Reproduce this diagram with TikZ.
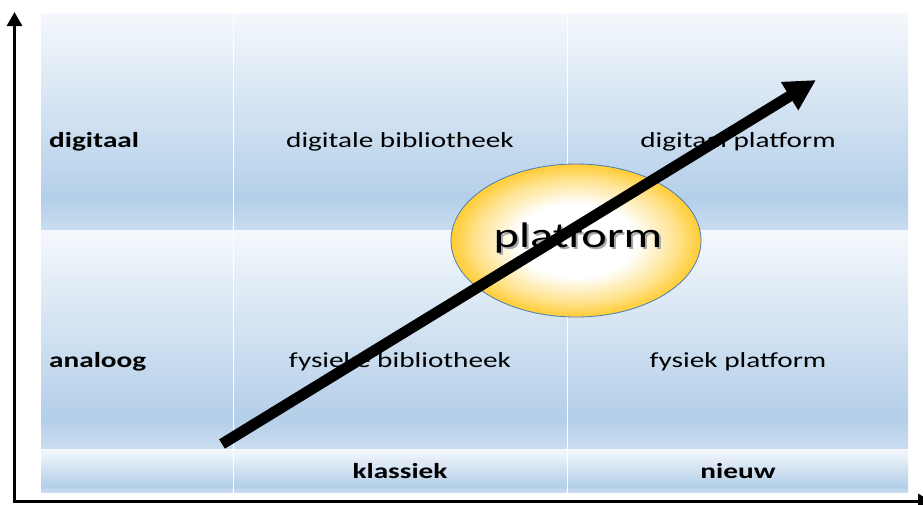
\documentclass[tikz,border=0pt]{standalone}
\usepackage{fontspec}
\setmainfont[FakeStretch=1.36]{Carlito}
\usetikzlibrary{arrows.meta,shapes.geometric}

\definecolor{celltop}{HTML}{F5F8FC}
\definecolor{celldeep}{HTML}{B4CFE9}
\definecolor{cellbot}{HTML}{C9DCEF}
\definecolor{goldedge}{HTML}{FFCC33}
\definecolor{goldsoft}{HTML}{FFE390}
\definecolor{ringblue}{HTML}{4A7EBB}
\definecolor{shadowgrey}{HTML}{A8A8A8}

% pale at the top, deepest blue just above the lower edge
\pgfdeclareverticalshading{cellfade}{100bp}{%
  color(0bp)=(cellbot); color(25bp)=(cellbot); color(32bp)=(celldeep);
  color(75bp)=(celltop); color(100bp)=(celltop)}
% white core fading out to gold at the rim
\pgfdeclareradialshading{goldglow}{\pgfpoint{0bp}{0bp}}{%
  color(0bp)=(white); color(12bp)=(white); color(20bp)=(goldsoft);
  color(25bp)=(goldedge); color(50bp)=(goldedge)}

% word with a soft drop shadow behind it
\newcommand{\shadowedword}[1]{%
  \makebox[0pt][l]{\hspace{2pt}\raisebox{-2pt}{\textcolor{shadowgrey}{#1}}}#1}

\begin{document}
\begin{tikzpicture}[x=1pt,y=-1pt,
  cellfill/.style={shading=cellfade},
  label/.style={font=\fontsize{21.5}{25}\selectfont, anchor=base, inner sep=0pt},
  rowhead/.style={label, font=\fontsize{21.5}{25}\selectfont\bfseries, anchor=base west},
  colhead/.style={label, font=\fontsize{21.5}{25}\selectfont\bfseries},
  axisline/.style={line width=3pt, line join=miter,
    {Triangle[length=14pt,width=15pt]}-{Triangle[length=14pt,width=15pt]}},
  trend/.style={line width=11pt, -{Triangle[length=31pt,width=31pt]}},
  hub/.style={ellipse, draw=ringblue, line width=0.8pt, shading=goldglow,
    minimum width=250pt, minimum height=153pt, inner sep=0pt}
]
\useasboundingbox (0,0) rectangle (923,504);
\fill[white] (0,0) rectangle (923,504);

% table cells
\shade[cellfill] (41,13)    rectangle (232.5,229);
\shade[cellfill] (234,13)   rectangle (566.5,229);
\shade[cellfill] (568,13)   rectangle (908,229);
\shade[cellfill] (41,230.5) rectangle (232.5,448);
\shade[cellfill] (234,230.5) rectangle (566.5,448);
\shade[cellfill] (568,230.5) rectangle (908,448);
\shade[cellfill] (41,449.5) rectangle (232.5,492);
\shade[cellfill] (234,449.5) rectangle (566.5,492);
\shade[cellfill] (568,449.5) rectangle (908,492);

% row and column headings
\node[rowhead] (digi) at (49,147) {digitaal};
\node[rowhead] (anal) at (49,367) {analoog};
\node[colhead] (klas) at (400,478) {klassiek};
\node[colhead] (nieu) at (738,478) {nieuw};

% cell contents
\node[label] (digbib) at (400,147) {digitale bibliotheek};
\node[label] (digplat) at (738,147) {digitaal platform};
\node[label] (fysbib) at (400,367) {fysieke bibliotheek};
\node[label] (fysplat) at (738,367) {fysiek platform};

% central platform ellipse
\node[hub] (hub) at (576,240.5) {};
\node[label, font=\fontsize{35.5}{40}\selectfont] (hubtext) at (578,247)
  {\shadowedword{platform}};

% rising trend arrow
\coordinate (trendstart) at (222,444);
\coordinate (trendend) at (816,80);
\draw[trend] (trendstart) -- (trendend);

% axes
\coordinate (ytip) at (14.5,12);
\coordinate (origin) at (14.5,501.5);
\coordinate (xtip) at (932,501.5);
\draw[axisline] (ytip) -- (origin) -- (xtip);
\end{tikzpicture}
\end{document}
